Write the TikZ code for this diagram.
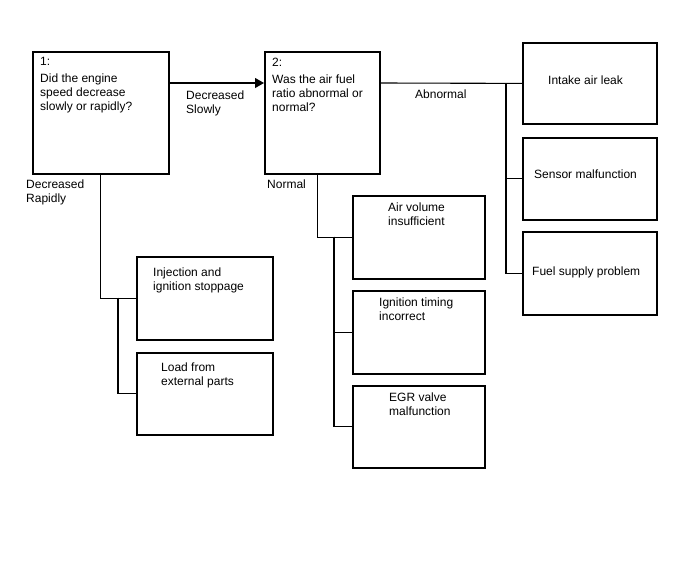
\documentclass[tikz,border=0pt]{standalone}
\usepackage{fontspec}
\setmainfont{Liberation Sans}
\usetikzlibrary{arrows.meta}

\begin{document}
\begin{tikzpicture}[x=1pt,y=-1pt,
  box/.style={draw,line width=1.8pt,inner sep=0pt,anchor=north west},
  txt/.style={anchor=north west,inner sep=0pt,align=left,font=\fontsize{12}{14}\selectfont},
  link/.style={line width=1.1pt},
  arr/.style={line width=1.1pt,-{Triangle[length=9pt,width=10pt]}}]
\useasboundingbox (0,0) rectangle (688,560);
\node [box,minimum width=136pt,minimum height=122pt] (b1) at (32,51) {};
\node [box,minimum width=115pt,minimum height=122pt] (b2) at (264,51) {};
\node [box,minimum width=134pt,minimum height=81pt] (r1) at (522,42) {};
\node [box,minimum width=134pt,minimum height=82pt] (r2) at (522,137) {};
\node [box,minimum width=134pt,minimum height=83pt] (r3) at (522,231) {};
\node [box,minimum width=136pt,minimum height=83pt] (l1) at (136,256) {};
\node [box,minimum width=136pt,minimum height=82pt] (l2) at (136,352) {};
\node [box,minimum width=132pt,minimum height=83pt] (m1) at (352,195) {};
\node [box,minimum width=132pt,minimum height=83pt] (m2) at (352,290) {};
\node [box,minimum width=132pt,minimum height=82pt] (m3) at (352,385) {};
\node [txt] (t1) at (40,57.5) {1:\\[3pt]Did the engine\\speed decrease\\slowly or rapidly?};
\node [txt] (t2) at (272,57.5) {2:\\[3pt]Was the air fuel\\ratio abnormal or\\normal?};
\node [txt] (tr1) at (548,76) {Intake air leak};
\node [txt] (tr2) at (534,170) {Sensor malfunction};
\node [txt] (tr3) at (532,267) {Fuel supply problem};
\node [txt] (tl1) at (153,268) {Injection and\\ignition stoppage};
\node [txt] (tl2) at (161,363) {Load from\\external parts};
\node [txt] (tm1) at (388,203) {Air volume\\insufficient};
\node [txt] (tm2) at (379,298) {Ignition timing\\incorrect};
\node [txt] (tm3) at (389,393) {EGR valve\\malfunction};
\node [txt] (slow) at (186,90.5) {Decreased\\Slowly};
\node [txt] (abn) at (415,90) {Abnormal};
\node [txt] (rapid) at (26,180) {Decreased\\Rapidly};
\node [txt] (norm) at (267,180) {Normal};
\draw [arr] ([yshift=-32pt]b1.north east) -- ([yshift=-32pt]b2.north west);
\draw [link] ([yshift=-32pt]b2.north east) -- (r1.west);
\coordinate (j1) at (506,83);
\draw [link] (j1) |- (r2.west);
\draw [link] (j1) |- (r3.west);
\draw [link] (b1.south) |- (l1.west);
\coordinate (j2) at (118,297.5);
\draw [link] (j2) |- (l2.west);
\draw [link] ([xshift=-4.5pt]b2.south) |- (m1.west);
\coordinate (j3) at (334,236.5);
\draw [link] (j3) |- (m2.west);
\draw [link] (j3) |- (m3.west);
\end{tikzpicture}
\end{document}
